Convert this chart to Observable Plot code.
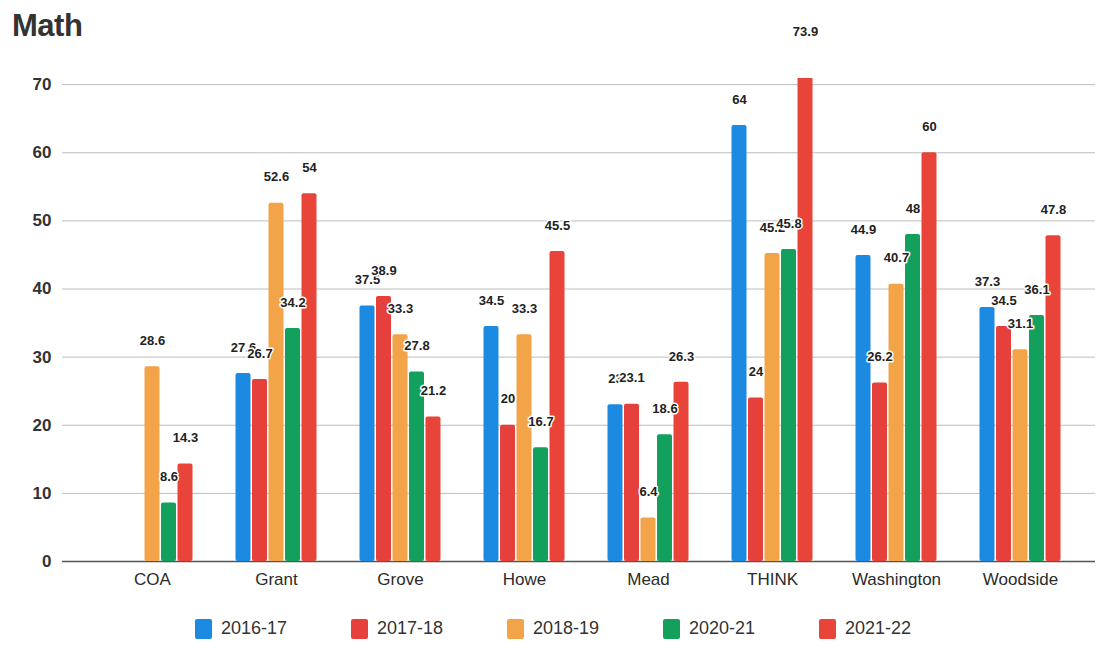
<!DOCTYPE html>
<html>
<head>
<meta charset="utf-8">
<script src="https://cdn.jsdelivr.net/npm/d3@7"></script>
<script src="https://cdn.jsdelivr.net/npm/@observablehq/plot@0.6"></script>
<style>
  html, body { margin: 0; padding: 0; background: #fff; }
  #wrap { position: relative; width: 1099px; height: 650px; font-family: "Liberation Sans", Arial, sans-serif; }
  #title { position: absolute; left: 12px; top: 8px; font-size: 31px; font-weight: bold; color: #333; letter-spacing: -0.5px; }
  #legend { position: absolute; left: 195px; top: 618px; display: flex; gap: 0; font-size: 18px; color: #333; }
  #legend .item { display: flex; align-items: center; width: 156px; }
  #legend .sw { width: 17px; height: 20px; border-radius: 2px; margin-right: 9px; }
  #chart { position: absolute; left: 0; top: 0; }
</style>
</head>
<body>
<div id="wrap">
  <div id="chart"></div>
  <div id="title">Math</div>
  <div id="legend"></div>
</div>
<script>
// Schools and school years
const schools = ["COA", "Grant", "Grove", "Howe", "Mead", "THINK", "Washington", "Woodside"];
const years = ["2016-17", "2017-18", "2018-19", "2020-21", "2021-22"];
const colors = ["#1b8ae0", "#e5403b", "#f4a448", "#12a05c", "#e8443a"];

// Percent values per school, one array per year (null = no data)
const y2016 = [null, 27.6, 37.5, 34.5, 23, 64, 44.9, 37.3];
const y2017 = [null, 26.7, 38.9, 20, 23.1, 24, 26.2, 34.5];
const y2018 = [28.6, 52.6, 33.3, 33.3, 6.4, 45.2, 40.7, 31.1];
const y2020 = [8.6, 34.2, 27.8, 16.7, 18.6, 45.8, 48, 36.1];
const y2021 = [14.3, 54, 21.2, 45.5, 26.3, 73.9, 60, 47.8];

const yTicks = [0, 10, 20, 30, 40, 50, 60, 70];

const series = [y2016, y2017, y2018, y2020, y2021];
const rows = [];
series.forEach((vals, i) => {
  vals.forEach((v, j) => {
    if (v != null) rows.push({school: schools[j], year: years[i], idx: i, value: v});
  });
});

// Grouped bars: each year gets a narrow bar offset inside the school's band
const barW = 15;
const step = 16.5;
const band = 124;
const inset = (band - barW) / 2;

const marks = [
  Plot.ruleY(yTicks.filter(t => t > 0), {stroke: "#bdbdbd", strokeWidth: 1}),
  Plot.ruleY([0], {stroke: "#555", strokeWidth: 1.5})
];
years.forEach((yr, i) => {
  const data = rows.filter(r => r.idx === i);
  const dx = (i - 2) * step;
  marks.push(Plot.barY(data, {
    x: "school", y: "value", fill: colors[i],
    insetLeft: inset, insetRight: inset, dx, rx: 2, clip: true
  }));
});
years.forEach((yr, i) => {
  const data = rows.filter(r => r.idx === i);
  const dx = (i - 2) * step;
  marks.push(Plot.text(data, {
    x: "school", y: "value", text: d => String(d.value), dx, dy: -26,
    fill: "#222", stroke: "white", strokeWidth: 3, paintOrder: "stroke",
    fontWeight: "bold", fontSize: 13
  }));
});

const chart = Plot.plot({
  width: 1099,
  height: 650,
  marginTop: 78,
  marginBottom: 89,
  marginLeft: 62,
  marginRight: 4,
  style: {fontFamily: "Liberation Sans, Arial, sans-serif", background: "white", overflow: "visible"},
  x: {domain: schools, padding: 0, insetLeft: 27, insetRight: 13, label: null},
  y: {domain: [0, 70.9], label: null},
  marks: [
    ...marks,
    Plot.axisX({tickSize: 0, tickPadding: 11, fontSize: 17, fill: "#2b2b2b", label: null}),
    Plot.axisY(yTicks, {tickSize: 0, tickPadding: 11, fontSize: 17, fontWeight: "bold", fill: "#333", label: null})
  ]
});
document.getElementById("chart").appendChild(chart);

const legend = document.getElementById("legend");
years.forEach((yr, i) => {
  const item = document.createElement("div");
  item.className = "item";
  const sw = document.createElement("div");
  sw.className = "sw";
  sw.style.background = colors[i];
  const t = document.createElement("span");
  t.textContent = yr;
  item.appendChild(sw);
  item.appendChild(t);
  legend.appendChild(item);
});
</script>
</body>
</html>
